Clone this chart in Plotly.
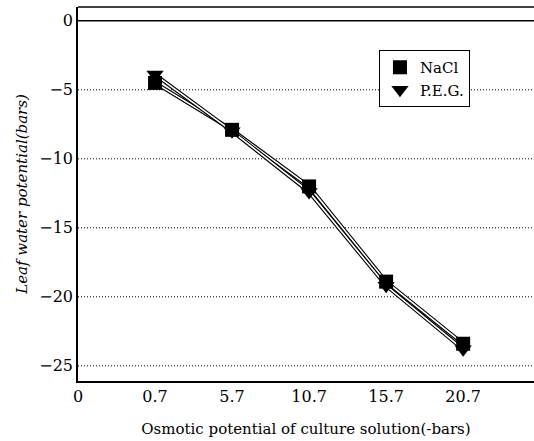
import plotly.graph_objects as go

x_labels = ["0", "0.7", "5.7", "10.7", "15.7", "20.7"]
x_pos = [1, 2, 3, 4, 5]
nacl = [-4.5, -7.9, -12.0, -18.9, -23.4]
peg = [-3.9, -8.0, -12.4, -19.2, -23.8]
y_ticks = [0, -5, -10, -15, -20, -25]

FONT = "DejaVu Serif, Liberation Serif, serif"

fig = go.Figure()
for ys in (nacl, peg):
    fig.add_trace(go.Scatter(x=x_pos, y=ys, mode="lines", line=dict(color="black", width=3.8),
                             showlegend=False, hoverinfo="skip"))
    fig.add_trace(go.Scatter(x=x_pos, y=ys, mode="lines", line=dict(color="white", width=1.6),
                             showlegend=False, hoverinfo="skip"))
fig.add_trace(go.Scatter(x=x_pos, y=nacl, mode="markers", name="NaCl",
                         marker=dict(symbol="square", size=14, color="black")))
fig.add_trace(go.Scatter(x=x_pos, y=peg, mode="markers", name="P.E.G.",
                         marker=dict(symbol="triangle-down", size=15, color="black")))

for v in y_ticks[1:]:
    fig.add_shape(type="line", xref="paper", x0=0, x1=1, yref="y", y0=v, y1=v,
                  line=dict(color="black", width=1, dash="1px,2px"), layer="below")
fig.add_shape(type="line", xref="paper", x0=0, x1=1, yref="y", y0=0, y1=0,
              line=dict(color="black", width=1.5), layer="below")
fig.add_shape(type="line", xref="paper", x0=0, x1=1, yref="paper", y0=1, y1=1,
              line=dict(color="black", width=1.5))

fig.update_layout(
    width=534, height=441,
    margin=dict(l=78, r=0, t=7, b=60),
    paper_bgcolor="white", plot_bgcolor="white",
    font=dict(family=FONT, size=15, color="black"),
    showlegend=True,
    legend=dict(x=0.66, y=0.885, xanchor="left", yanchor="top",
                bordercolor="black", borderwidth=1, bgcolor="white",
                font=dict(family=FONT, size=15), itemwidth=30,
                tracegroupgap=0),
    xaxis=dict(range=[0, 5.92], tickmode="array", tickvals=list(range(len(x_labels))),
               ticktext=x_labels, showgrid=False, zeroline=False,
               showline=True, linecolor="black", linewidth=1.5, ticks="",
               tickfont=dict(size=16),
               title=dict(text="Osmotic potential of culture solution(-bars)", standoff=19,
                          font=dict(size=15)),
               fixedrange=True),
    yaxis=dict(range=[-26.1, 1.0], tickmode="array", tickvals=y_ticks,
               ticktext=["0", "\u22125", "\u221210", "\u221215", "\u221220", "\u221225"],
               showgrid=False, zeroline=False, showline=True, linecolor="black",
               linewidth=1.5, ticks="", tickfont=dict(size=16),
               title=dict(text="<i>Leaf water potential(bars)</i>", standoff=8,
                          font=dict(size=15)),
               fixedrange=True),
)

fig.write_html("out.html")
